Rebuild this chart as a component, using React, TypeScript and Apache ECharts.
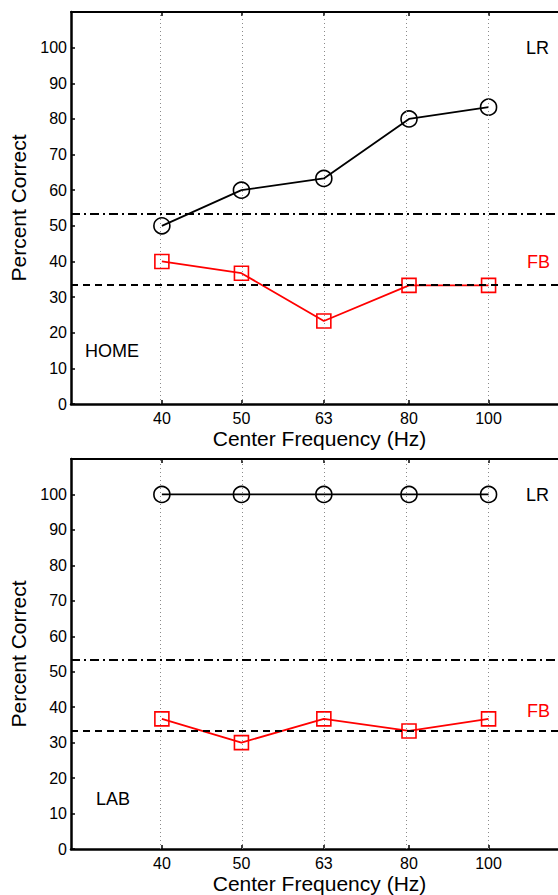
import React, { useEffect, useRef } from "react";
import * as echarts from "echarts";

const freqs = [40, 50, 63, 80, 100];
const homeLR = [50, 60, 63.3, 80, 83.3];
const homeFB = [40, 36.7, 23.3, 33.3, 33.3];
const labLR = [100, 100, 100, 100, 100];
const labFB = [36.7, 30, 36.7, 33.3, 36.7];
const chanceLR = 53.33;
const chanceFB = 33.33;
const yTicks = [0, 10, 20, 30, 40, 50, 60, 70, 80, 90, 100];
const xMinHz = 31;
const xMaxHz = 121.5;

const FONT = "Liberation Sans, Arial, Helvetica, sans-serif";
const RED = "#ff0000";

export default function App() {
  const ref = useRef<HTMLDivElement>(null);
  useEffect(() => {
    document.body.style.margin = "0";
    const chart = echarts.init(ref.current!, null, { renderer: "svg" });
    const lx = freqs.map((f) => Math.log10(f));
    const pairs = (vals: number[]) => vals.map((v, i) => [lx[i], v]);

    const grids = [
      { left: 71, top: 12, right: 0, height: 392 },
      { left: 71, top: 459, right: 0, height: 393 },
    ];

    const xAxes: any[] = [];
    const yAxes: any[] = [];
    grids.forEach((_, gi) => {
      xAxes.push({
        type: "value",
        gridIndex: gi,
        position: "bottom",
        min: Math.log10(xMinHz),
        max: Math.log10(xMaxHz),
        name: "Center Frequency (Hz)",
        nameLocation: "middle",
        nameGap: 24,
        nameTextStyle: { fontFamily: FONT, fontSize: 21, color: "#000", padding: [0, 0, 0, 10] },
        axisLine: { show: true, onZero: false, lineStyle: { color: "#000", width: 2.5 } },
        axisTick: { show: true, inside: true, length: 4, customValues: lx, lineStyle: { color: "#000", width: 1.5 } },
        axisLabel: {
          show: true,
          customValues: lx,
          margin: 6,
          fontFamily: FONT,
          fontSize: 16,
          color: "#000",
          formatter: (v: number) => String(Math.round(Math.pow(10, v))),
        },
        splitLine: { show: false },
      });
      xAxes.push({
        type: "value",
        gridIndex: gi,
        position: "top",
        min: Math.log10(xMinHz),
        max: Math.log10(xMaxHz),
        axisLine: { show: true, onZero: false, lineStyle: { color: "#000", width: 2 } },
        axisTick: { show: true, inside: true, length: 4, customValues: lx, lineStyle: { color: "#000", width: 1.5 } },
        axisLabel: { show: false },
        splitLine: { show: false },
      });
      yAxes.push({
        type: "value",
        gridIndex: gi,
        min: 0,
        max: 110,
        interval: 10,
        name: "Percent Correct",
        nameLocation: "middle",
        nameGap: 39,
        nameTextStyle: { fontFamily: FONT, fontSize: 21, color: "#000" },
        axisLine: { show: true, lineStyle: { color: "#000", width: 2.5 } },
        axisTick: { show: true, inside: true, length: 4, lineStyle: { color: "#000", width: 1.5 } },
        axisLabel: {
          margin: 4,
          fontFamily: FONT,
          fontSize: 16,
          color: "#000",
          formatter: (v: number) => (yTicks.includes(v) ? String(v) : ""),
        },
        splitLine: { show: false },
      });
    });

    const panels = [
      { lr: homeLR, fb: homeFB },
      { lr: labLR, fb: labFB },
    ];

    const series: any[] = [];
    panels.forEach((p, gi) => {
      const xi = gi * 2;
      series.push({
        type: "line",
        xAxisIndex: xi,
        yAxisIndex: gi,
        data: pairs(p.fb),
        symbol: "none",
        lineStyle: { opacity: 0 },
        silent: true,
        z: 1,
        markLine: {
          silent: true,
          symbol: ["none", "none"],
          label: { show: false },
          data: [
            ...lx.map((x) => ({
              xAxis: x,
              lineStyle: { type: [1, 3], color: "#8a8a8a", width: 1 },
            })),
            { yAxis: chanceLR, lineStyle: { type: [9, 4, 2, 4], color: "#000", width: 1.8 } },
            { yAxis: chanceFB, lineStyle: { type: [7, 5], color: "#000", width: 1.8 } },
          ],
        },
      });
      series.push({
        type: "line",
        xAxisIndex: xi,
        yAxisIndex: gi,
        data: pairs(p.lr),
        symbol: "circle",
        symbolSize: 16,
        z: 3,
        itemStyle: { color: "rgba(0,0,0,0)", borderColor: "#000", borderWidth: 1.6 },
        lineStyle: { color: "#000", width: 1.8 },
      });
      series.push({
        type: "line",
        xAxisIndex: xi,
        yAxisIndex: gi,
        data: pairs(p.fb),
        symbol: "rect",
        symbolSize: 14,
        z: 3,
        itemStyle: { color: "rgba(0,0,0,0)", borderColor: RED, borderWidth: 1.6 },
        lineStyle: { color: RED, width: 1.8 },
      });
    });

    const txt = (text: string, x: number, y: number, color: string) => ({
      type: "text",
      x,
      y,
      style: { text, fill: color, fontFamily: FONT, fontSize: 18, textVerticalAlign: "middle", verticalAlign: "middle" },
    });

    chart.setOption({
      animation: false,
      backgroundColor: "#fff",
      grid: grids,
      xAxis: xAxes,
      yAxis: yAxes,
      series,
      graphic: [
        txt("LR", 526, 48, "#000"),
        txt("FB", 527, 262, RED),
        txt("HOME", 85, 351, "#000"),
        txt("LR", 526, 495, "#000"),
        txt("FB", 527, 711, RED),
        txt("LAB", 96, 799, "#000"),
      ],
    });
    return () => chart.dispose();
  }, []);
  return <div ref={ref} style={{ width: 558, height: 895 }} />;
}
